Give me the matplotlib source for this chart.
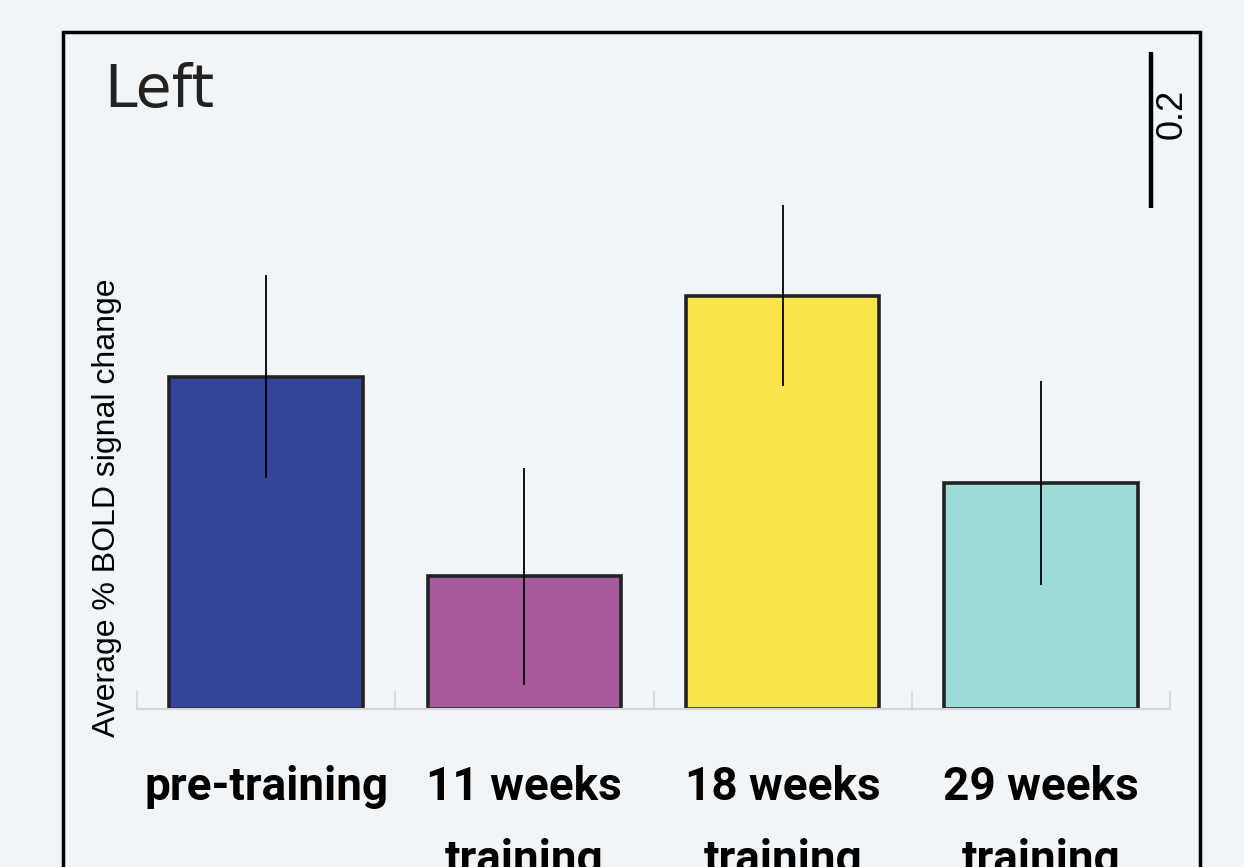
import matplotlib.pyplot as plt
from matplotlib.patches import Rectangle
import numpy as np

# Average % BOLD signal change, left hemisphere
categories = ['pre-training', '11 weeks\ntraining', '18 weeks\ntraining', '29 weeks\ntraining']
means = [0.426, 0.170, 0.530, 0.290]
errors = [0.130, 0.139, 0.116, 0.131]
bar_colors = ['#33449a', '#a65a9b', '#f9e64a', '#9ddbd6']
scale_value = 0.2

W, H = 1244, 867
bg = '#f1f5f8'

fig = plt.figure(figsize=(W / 100, H / 100), dpi=100)
fig.patch.set_facecolor(bg)

# axes placed in pixel terms
left, right, bottom, top = 137, 1170, 709, 32
ax = fig.add_axes([left / W, 1 - bottom / H, (right - left) / W, (bottom - top) / H])
ax.set_facecolor('none')

px_per_unit = 780.0
x = np.arange(len(categories))
ax.bar(x, means, width=0.75, color=bar_colors, edgecolor='#222222', linewidth=2.6, zorder=2)
ax.errorbar(x, means, yerr=errors, fmt='none', ecolor='black', elinewidth=1.3, capsize=0, zorder=3)

ax.set_xlim(-0.5, len(categories) - 0.5)
ax.set_ylim(0, (bottom - top) / px_per_unit)

for s in ['top', 'right', 'left']:
    ax.spines[s].set_visible(False)
ax.spines['bottom'].set_color('#d3d6d9')
ax.spines['bottom'].set_linewidth(1.5)
ax.set_yticks([])

ax.set_xticks(x)
ax.set_xticklabels(categories, fontsize=33, fontweight='bold', family='Roboto',
                   linespacing=1.85, va='top')
ax.tick_params(axis='x', which='major', length=0, pad=40)
ax.set_xticks(np.arange(-0.5, len(categories)), minor=True)
ax.tick_params(axis='x', which='minor', direction='in', length=13, width=1.2, color='#d3d6d9')

# scale bar
sb_x = (1151 - left) / ((right - left) / len(categories)) - 0.5
sb_top = (bottom - 52) / px_per_unit
ax.plot([sb_x, sb_x], [sb_top - scale_value, sb_top], color='black', lw=3.2,
        solid_capstyle='butt', clip_on=False)
fig.text(1172 / W, 1 - 114 / H, '0.2', rotation=90,
         fontsize=26, family='Liberation Sans', ha='center', va='center')

fig.text(107 / W, 1 - 508 / H, 'Average % BOLD signal change', rotation=90,
         fontsize=23, family='Liberation Sans', ha='center', va='center')

fig.text(104 / W, 1 - 90 / H, 'Left', fontsize=42, family='DejaVu Sans', color='#222222',
         ha='left', va='center')

# outer frame
fig.patches.append(Rectangle((63 / W, -0.05), (1200 - 63) / W, 1 - 32 / H + 0.05,
                             transform=fig.transFigure, fill=False,
                             edgecolor='black', linewidth=2.5))

fig.savefig('out.png', dpi=100, facecolor=bg)
